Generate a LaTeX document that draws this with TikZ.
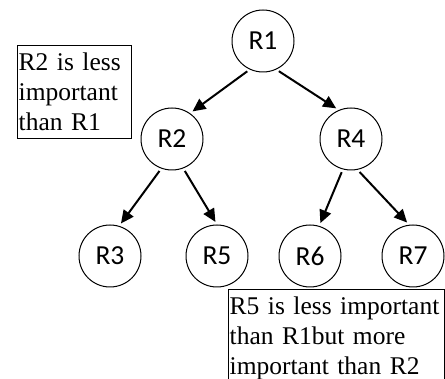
\documentclass[tikz,border=0pt]{standalone}
\usepackage{fontspec}
\setmainfont{Liberation Serif}
\newfontfamily\circfont{Carlito}
\usetikzlibrary{arrows.meta}
\tikzset{
  rnode/.style={circle, draw, line width=1pt, minimum size=62pt, inner sep=0pt,
    font=\circfont\fontsize{27.5}{32}\selectfont},
  link/.style={line width=2pt, -{Triangle[length=13pt,width=12pt]},
    shorten <=3pt, shorten >=3pt},
  note/.style={draw, line width=1pt, align=left, inner xsep=1.2pt, inner ysep=7.3pt,
    font=\fontsize{25.5}{30}\selectfont, anchor=north west}
}
\begin{document}
\begin{tikzpicture}[x=1pt,y=-1pt]
  \useasboundingbox (0,0) rectangle (445,379);
  % tree of rules
  \node[rnode] (R1) at (263,41) {R1};
  \node[rnode] (R2) at (172,139) {R2};
  \node[rnode] (R4) at (351,139) {R4};
  \node[rnode] (R3) at (110,256) {R3};
  \node[rnode] (R5) at (217,256) {R5};
  \node[rnode] (R6) at (310,256) {R6};
  \node[rnode] (R7) at (413,256) {R7};
  \draw[link] (R1.245) -- (R2.55);
  \draw[link] (R1.295) -- (R4.113);
  \draw[link] (R2.250) -- (R3.73);
  \draw[link] (R2.291) -- (R5.90);
  \draw[link] (R4.255) -- (R6.73);
  \draw[link] (R4.282) -- (R7.97);
  % notes
  \node[note, text width=112pt] (n1) at (17,45) {R2 is less\\important\\than R1};
  \node[note, text width=214pt] (n2) at (228,289) {R5 is less important\\than R1but more\\important than R2};
\end{tikzpicture}
\end{document}
